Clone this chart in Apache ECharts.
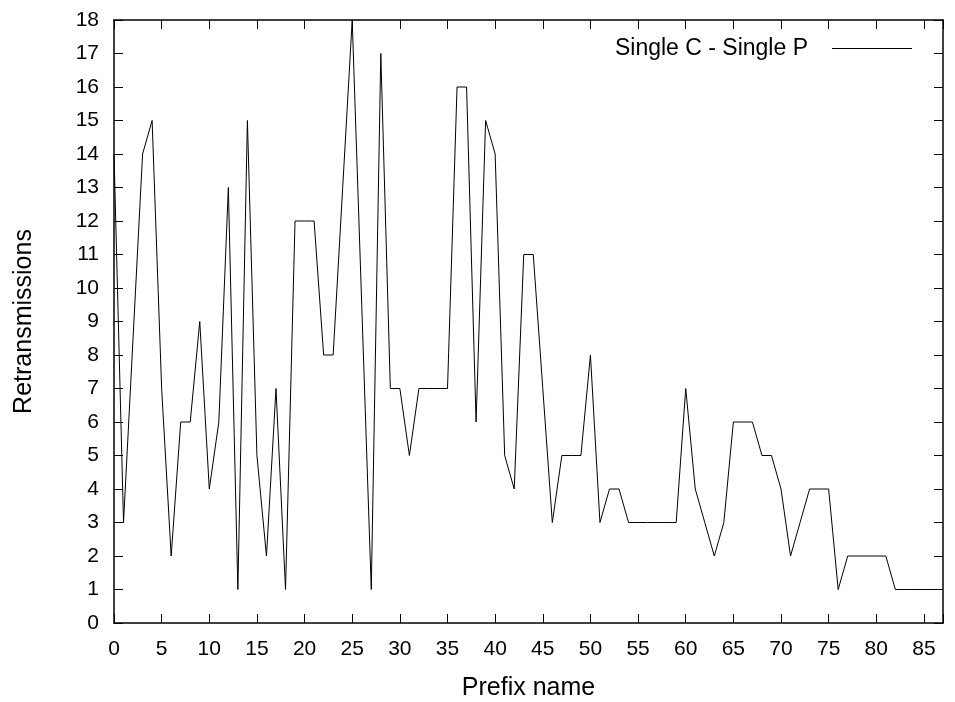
<!DOCTYPE html>
<html>
<head>
<meta charset="utf-8">
<script src="https://cdn.jsdelivr.net/npm/echarts@6/dist/echarts.min.js"></script>
<style>
html,body{margin:0;padding:0;background:#fff;}
#chart{width:955px;height:702px;}
</style>
</head>
<body>
<div id="chart"></div>
<script>
// Prefix index (x) and retransmission counts (y), in drawing order
const prefixIndex = [0, 1, 0, 1, 3, 4, 5, 6, 7, 8, 9, 10, 11, 12, 13, 14, 15, 16, 17, 18, 19, 20, 21, 22, 23, 24, 25, 27, 28, 29, 30, 31, 32, 33, 34, 35, 36, 37, 38, 39, 40, 41, 42, 43, 44, 45, 46, 47, 48, 49, 50, 51, 52, 53, 54, 55, 56, 57, 58, 59, 60, 61, 62, 63, 64, 65, 66, 67, 68, 69, 70, 71, 72, 73, 74, 75, 76, 77, 78, 79, 80, 81, 82, 83, 84, 85, 86, 87];
const retransmissions = [14, 3, 3, 3, 14, 15, 7, 2, 6, 6, 9, 4, 6, 13, 1, 15, 5, 2, 7, 1, 12, 12, 12, 8, 8, 13, 18, 1, 17, 7, 7, 5, 7, 7, 7, 7, 16, 16, 6, 15, 14, 5, 4, 11, 11, 7, 3, 5, 5, 5, 8, 3, 4, 4, 3, 3, 3, 3, 3, 3, 7, 4, 3, 2, 3, 6, 6, 6, 5, 5, 4, 2, 3, 4, 4, 4, 1, 2, 2, 2, 2, 2, 1, 1, 1, 1, 1, 1];
const seriesName = 'Single C - Single P';
const xTitle = 'Prefix name';
const yTitle = 'Retransmissions';

const points = prefixIndex.map((x, i) => [x, retransmissions[i]]);
const FONT = "'Liberation Sans', Arial, Helvetica, sans-serif";
const frame = { show: true, onZero: false, lineStyle: { color: '#000', width: 1.5 } };
const ticks = { show: true, inside: true, length: 9, lineStyle: { color: '#000', width: 1 } };

const chart = echarts.init(document.getElementById('chart'), null, { renderer: 'canvas' });
chart.setOption({
  animation: false,
  backgroundColor: '#fff',
  grid: { left: 114, right: 12, top: 20, bottom: 79, containLabel: false, outerBoundsMode: 'none' },
  legend: {
    data: [{ name: seriesName, icon: 'rect' }],
    right: 43, top: 37, padding: 0,
    align: 'right',
    itemWidth: 80, itemHeight: 1,
    itemStyle: { color: '#000', borderWidth: 0 },
    textStyle: { fontFamily: FONT, fontSize: 23, color: '#000', padding: [0, 19, 0, 0] },
    selectedMode: false
  },
  xAxis: [
    {
      type: 'value', min: 0, max: 87, interval: 5, position: 'bottom',
      axisLine: frame, axisTick: ticks, splitLine: { show: false },
      axisLabel: {
        color: '#000', fontFamily: FONT, fontSize: 21, margin: 16,
        formatter: v => (v % 5 === 0 ? String(v) : '')
      },
      name: xTitle, nameLocation: 'middle', nameGap: 53,
      nameTextStyle: { color: '#000', fontFamily: FONT, fontSize: 25 }
    },
    {
      type: 'value', min: 0, max: 87, interval: 5, position: 'top',
      axisLine: frame, axisTick: ticks, splitLine: { show: false },
      axisLabel: { show: false }
    }
  ],
  yAxis: [
    {
      type: 'value', min: 0, max: 18, interval: 1, position: 'left',
      axisLine: frame, axisTick: ticks, splitLine: { show: false },
      axisLabel: { color: '#000', fontFamily: FONT, fontSize: 21, margin: 15 },
      name: yTitle, nameLocation: 'middle', nameGap: 77, nameRotate: 90,
      nameTextStyle: { color: '#000', fontFamily: FONT, fontSize: 25 }
    },
    {
      type: 'value', min: 0, max: 18, interval: 1, position: 'right',
      axisLine: frame, axisTick: ticks, splitLine: { show: false },
      axisLabel: { show: false }
    }
  ],
  series: [
    {
      name: seriesName, type: 'line', xAxisIndex: 0, yAxisIndex: 0,
      data: points, showSymbol: false, symbol: 'none',
      lineStyle: { color: '#000', width: 1 },
      itemStyle: { color: '#000' },
      clip: true
    }
  ]
});
</script>
</body>
</html>
